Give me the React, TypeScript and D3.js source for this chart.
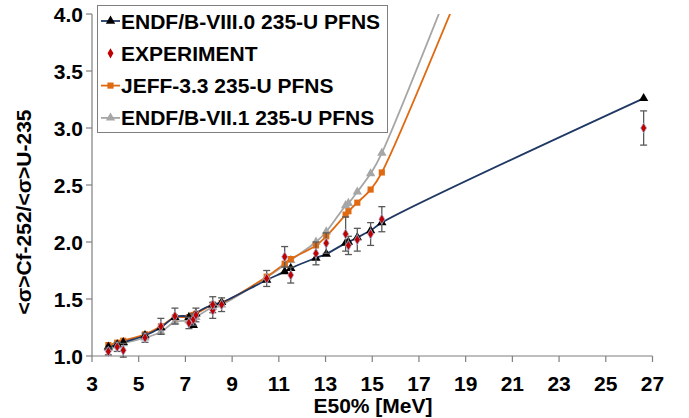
import * as d3 from "d3";

const energies = [3.7, 4.08, 4.34, 5.27, 5.95, 6.55, 7.15, 7.34, 7.45, 8.17, 8.55, 10.48, 11.25, 11.51, 12.59, 13.03, 13.86, 13.98, 14.36, 14.93, 15.41, 26.62];

const endf80 = [1.08, 1.1, 1.12, 1.18, 1.25, 1.34, 1.34, 1.27, 1.37, 1.45, 1.47, 1.667, 1.74, 1.77, 1.86, 1.895, 1.99, 2.0, 2.04, 2.1, 2.17, 3.26];
const jeff33 = [1.096, 1.117, 1.134, 1.19, 1.26, 1.34, 1.34, 1.36, 1.37, 1.45, 1.465, 1.696, 1.81, 1.85, 1.97, 2.05, 2.24, 2.27, 2.345, 2.46, 2.61, 8.2];
const endf71 = [1.067, 1.09, 1.11, 1.16, 1.21, 1.3, 1.31, 1.325, 1.34, 1.43, 1.45, 1.69, 1.8, 1.84, 2.0, 2.09, 2.32, 2.34, 2.44, 2.6, 2.78, 8.6];

const expE = [3.7, 4.08, 4.34, 5.27, 5.95, 6.55, 7.15, 7.34, 7.45, 8.17, 8.17, 8.55, 10.48, 11.25, 11.51, 12.59, 13.03, 13.86, 13.98, 14.36, 14.93, 15.41, 26.62];
const expVal = [1.04, 1.08, 1.05, 1.16, 1.26, 1.35, 1.29, 1.32, 1.36, 1.4, 1.45, 1.45, 1.68, 1.87, 1.71, 1.9, 1.99, 2.07, 1.97, 2.02, 2.07, 2.2, 3.0];
const expErr = [0.03, 0.04, 0.06, 0.04, 0.07, 0.07, 0.05, 0.05, 0.06, 0.07, 0.07, 0.06, 0.07, 0.09, 0.07, 0.1, 0.09, 0.15, 0.08, 0.1, 0.1, 0.11, 0.15];

const xTicks = [3, 5, 7, 9, 11, 13, 15, 17, 19, 21, 23, 25, 27];
const yTicks = [1.0, 1.5, 2.0, 2.5, 3.0, 3.5, 4.0];

const NAVY = "#1f3864";
const ORANGE = "#e06a12";
const GRAY = "#a6a6a6";
const RED = "#c00000";
const FONT = "'Liberation Sans', Arial, sans-serif";

export default function App() {
  const x = d3.scaleLinear().domain([3, 27]).range([92, 652.5]);
  const y = d3.scaleLinear().domain([1, 4]).range([356, 14]);

  const line = d3
    .line<number>()
    .x((_, i) => x(energies[i]))
    .y((d) => y(d))
    .curve(d3.curveCatmullRom.alpha(0.5));

  const tri = d3.symbol().type(d3.symbolTriangle).size(38)();
  const sq = d3.symbol().type(d3.symbolSquare).size(38)();
  const dia = d3.symbol().type(d3.symbolDiamond).size(30)();

  const legend = [
    { label: "ENDF/B-VIII.0 235-U PFNS", color: NAVY, mark: tri, fill: "#000", line: true },
    { label: "EXPERIMENT", color: RED, mark: dia, fill: RED, line: false },
    { label: "JEFF-3.3 235-U PFNS", color: ORANGE, mark: sq, fill: ORANGE, line: true },
    { label: "ENDF/B-VII.1 235-U PFNS", color: GRAY, mark: tri, fill: GRAY, line: true },
  ];

  return (
    <svg width={689} height={418} style={{ position: "absolute", left: 0, top: 0 }} fontFamily={FONT}>
      <defs>
        <clipPath id="plot">
          <rect x={88} y={14} width={600} height={345} />
        </clipPath>
      </defs>
      <rect width={689} height={418} fill="#fff" />

      {/* axes */}
      <g stroke="#7f7f7f" strokeWidth={1.2} fill="none">
        <line x1={92} x2={92} y1={y(4)} y2={y(1)} />
        <line x1={92} x2={x(27)} y1={y(1)} y2={y(1)} />
        {yTicks.map((t) => (
          <line key={t} x1={86} x2={92} y1={y(t)} y2={y(t)} />
        ))}
        {xTicks.map((t) => (
          <line key={t} x1={x(t)} x2={x(t)} y1={y(1)} y2={y(1) + 6} />
        ))}
      </g>
      <g fontSize={21} fontWeight="bold" fill="#000">
        {yTicks.map((t) => (
          <text key={t} x={83} y={y(t)} dy="0.36em" textAnchor="end">
            {t.toFixed(1)}
          </text>
        ))}
        {xTicks.map((t) => (
          <text key={t} x={x(t)} y={391} textAnchor="middle">
            {t}
          </text>
        ))}
        <text x={373} y={413} textAnchor="middle">E50% [MeV]</text>
        <text transform="translate(31,212) rotate(-90)" textAnchor="middle">
          &lt;σ&gt;Cf-252/&lt;σ&gt;U-235
        </text>
      </g>

      <g clipPath="url(#plot)">
        <path d={line(endf71) || ""} fill="none" stroke={GRAY} strokeWidth={1.8} />
        <path d={line(jeff33) || ""} fill="none" stroke={ORANGE} strokeWidth={1.8} />
        <path d={line(endf80) || ""} fill="none" stroke={NAVY} strokeWidth={1.8} />

        {endf71.map((v, i) => (
          <path key={"g" + i} d={tri} fill={GRAY} transform={`translate(${x(energies[i])},${y(v)})`} />
        ))}
        {jeff33.map((v, i) => (
          <path key={"o" + i} d={sq} fill={ORANGE} transform={`translate(${x(energies[i])},${y(v)})`} />
        ))}
        {endf80.map((v, i) => (
          <path key={"n" + i} d={tri} fill="#000" transform={`translate(${x(energies[i])},${y(v)})`} />
        ))}

        {expVal.map((v, i) => {
          const cx = x(expE[i]);
          const top = y(v + expErr[i]);
          const bot = y(v - expErr[i]);
          return (
            <g key={"e" + i} stroke="#595959" strokeWidth={1.3}>
              <line x1={cx} x2={cx} y1={top} y2={bot} />
              <line x1={cx - 3.5} x2={cx + 3.5} y1={top} y2={top} />
              <line x1={cx - 3.5} x2={cx + 3.5} y1={bot} y2={bot} />
            </g>
          );
        })}
        {expVal.map((v, i) => (
          <path key={"d" + i} d={dia} fill={RED} stroke="#9db3d6" strokeWidth={0.8} transform={`translate(${x(expE[i])},${y(v)})`} />
        ))}
      </g>

      {/* legend */}
      <g>
        <rect x={97.5} y={5.5} width={290} height={127} fill="#fff" stroke="#7f7f7f" strokeWidth={1} />
        {legend.map((d, i) => {
          const cy = 21 + i * 32.3;
          return (
            <g key={d.label}>
              {d.line && <line x1={101} x2={120} y1={cy} y2={cy} stroke={d.color} strokeWidth={1.8} />}
              <path d={d.mark} fill={d.fill} transform={`translate(110.5,${cy})`} />
              <text x={121} y={cy} dy="0.36em" fontSize={21} fontWeight="bold">
                {d.label}
              </text>
            </g>
          );
        })}
      </g>
    </svg>
  );
}
